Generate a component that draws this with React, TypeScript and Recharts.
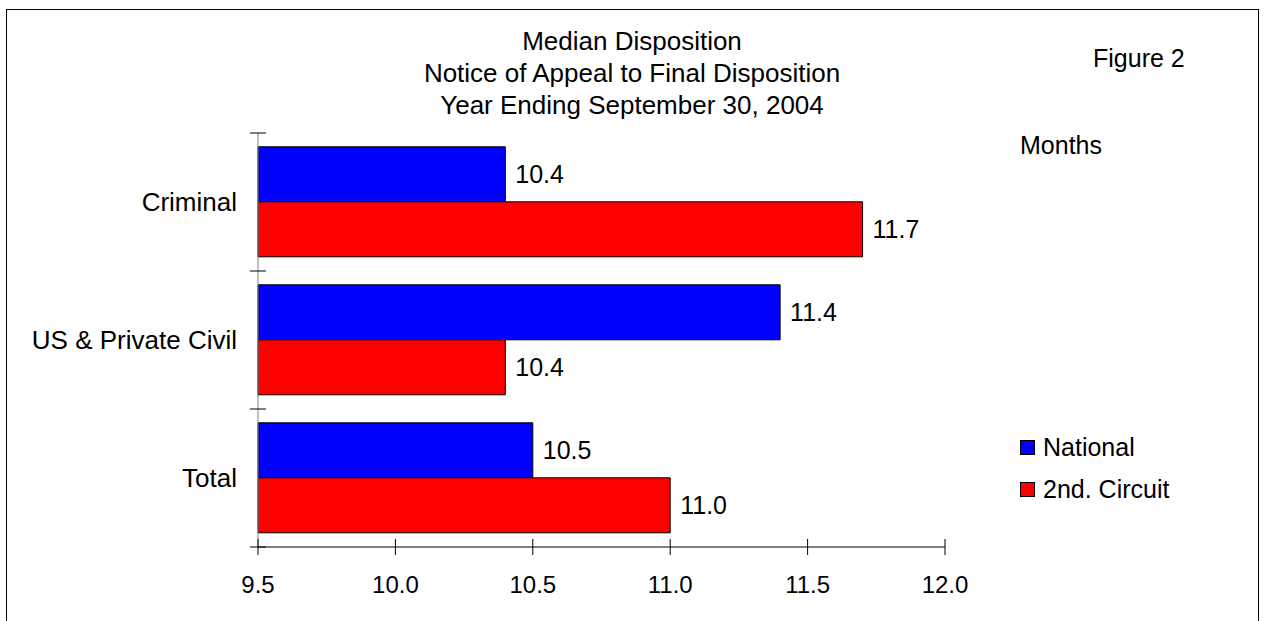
import React from 'react'
import { BarChart, Bar, XAxis, YAxis, LabelList } from 'recharts'

const categories = ['Criminal', 'US & Private Civil', 'Total']
const national = [10.4, 11.4, 10.5]
const secondCircuit = [11.7, 10.4, 11.0]
const xTicks = [9.5, 10.0, 10.5, 11.0, 11.5, 12.0]
const titleLines = [
  'Median Disposition',
  'Notice of Appeal to Final Disposition',
  'Year Ending September 30, 2004',
]
const seriesNames = ['National', '2nd. Circuit']
const seriesColors = ['#0000FF', '#FF0000']

const FONT = '"Liberation Sans", Arial, sans-serif'
const BAND_HALF = (547 - 133) / categories.length / 2
const Y_TICK_MARGIN = 21
const X_TICK_MARGIN = 29

const data = categories.map((name, i) => ({
  name,
  national: national[i],
  second: secondCircuit[i],
}))

function CategoryTick(props: any) {
  const { x, y, payload, index } = props
  const axisX = x + Y_TICK_MARGIN
  return (
    <g>
      <line x1={axisX - 8} x2={axisX + 8} y1={y - BAND_HALF} y2={y - BAND_HALF} stroke="#000" />
      {index === categories.length - 1 && (
        <line x1={axisX - 8} x2={axisX + 8} y1={y + BAND_HALF} y2={y + BAND_HALF} stroke="#000" />
      )}
      <text x={x} y={y} dy="0.36em" textAnchor="end" fontSize={26} fontFamily={FONT} fill="#000">
        {payload.value}
      </text>
    </g>
  )
}

function ValueTick(props: any) {
  const { x, y, payload } = props
  const axisY = y - X_TICK_MARGIN
  return (
    <g>
      <line x1={x} x2={x} y1={axisY - 8} y2={axisY + 8} stroke="#000" />
      <text x={x} y={y} dy="0.71em" textAnchor="middle" fontSize={24} fontFamily={FONT} fill="#000">
        {Number(payload.value).toFixed(1)}
      </text>
    </g>
  )
}

export default function App() {
  return (
    <div style={{ position: 'absolute', left: 0, top: 0, width: 1265, height: 621, background: '#fff', fontFamily: FONT, color: '#000' }}>
      <div
        style={{
          position: 'absolute',
          left: 6,
          top: 9,
          width: 1251,
          height: 612,
          borderLeft: '1px solid #000',
          borderTop: '1px solid #000',
          borderRight: '1px solid #000',
        }}
      />
      <div style={{ position: 'absolute', left: 332, top: 25, width: 600, textAlign: 'center', fontSize: 26, lineHeight: '32px' }}>
        {titleLines.map((t) => (
          <div key={t}>{t}</div>
        ))}
      </div>
      <div style={{ position: 'absolute', left: 1093, top: 43, fontSize: 25, lineHeight: '30px' }}>Figure 2</div>
      <div style={{ position: 'absolute', left: 1020, top: 130, fontSize: 25, lineHeight: '30px' }}>Months</div>
      <div style={{ position: 'absolute', left: 1020, top: 426 }}>
        {seriesNames.map((n, i) => (
          <div key={n} style={{ display: 'flex', alignItems: 'center', height: 42, fontSize: 25 }}>
            <span
              style={{
                display: 'inline-block',
                width: 13,
                height: 13,
                background: seriesColors[i],
                border: '1px solid #000',
                marginRight: 8,
              }}
            />
            {n}
          </div>
        ))}
      </div>
      <div style={{ position: 'absolute', left: 0, top: 0 }}>
        <BarChart
          width={1265}
          height={621}
          data={data}
          layout="vertical"
          margin={{ top: 133, right: 320, bottom: 0, left: 0 }}
          barCategoryGap="10%"
          barGap={0}
        >
          <XAxis
            type="number"
            domain={[9.5, 12]}
            ticks={xTicks}
            height={74}
            axisLine={{ stroke: '#000' }}
            tickLine={false}
            tickSize={0}
            tickMargin={X_TICK_MARGIN}
            tick={<ValueTick />}
            interval={0}
          />
          <YAxis
            type="category"
            dataKey="name"
            width={258}
            axisLine={{ stroke: '#808080' }}
            tickLine={false}
            tickSize={0}
            tickMargin={Y_TICK_MARGIN}
            tick={<CategoryTick />}
            interval={0}
          />
          <Bar dataKey="national" fill={seriesColors[0]} stroke="#000" strokeWidth={1} isAnimationActive={false}>
            <LabelList
              dataKey="national"
              position="right"
              offset={10}
              formatter={(v: any) => Number(v).toFixed(1)}
              style={{ fontSize: 25, fontFamily: FONT, fill: '#000' }}
            />
          </Bar>
          <Bar dataKey="second" fill={seriesColors[1]} stroke="#000" strokeWidth={1} isAnimationActive={false}>
            <LabelList
              dataKey="second"
              position="right"
              offset={10}
              formatter={(v: any) => Number(v).toFixed(1)}
              style={{ fontSize: 25, fontFamily: FONT, fill: '#000' }}
            />
          </Bar>
        </BarChart>
      </div>
    </div>
  )
}
